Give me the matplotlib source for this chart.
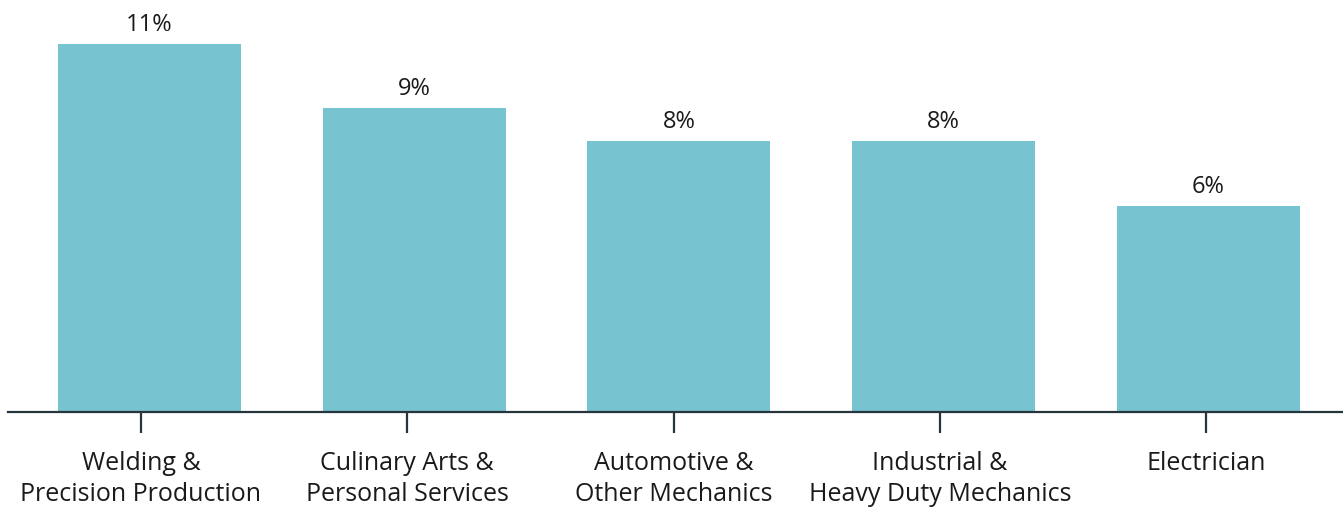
import numpy as np
import matplotlib.pyplot as plt

categories = ["Welding &\nPrecision Production", "Culinary Arts &\nPersonal Services",
              "Automotive &\nOther Mechanics", "Industrial &\nHeavy Duty Mechanics",
              "Electrician"]
values = [11.0, 9.07, 8.09, 8.09, 6.15]
value_labels = ["11%", "9%", "8%", "8%", "6%"]

plt.rcParams['font.family'] = ['Open Sans', 'DejaVu Sans']

fig = plt.figure(figsize=(13.43, 5.08), dpi=100)
ax = fig.add_axes([8 / 1343, 96 / 508, 1335 / 1343, 412 / 508])

x = np.arange(len(values))
ax.bar(x, values, width=0.691, color='#78c3d0')

for xi, v, lab in zip(x, values, value_labels):
    ax.annotate(lab, (xi, v), xytext=(0, 5), textcoords='offset points',
                ha='center', va='bottom', fontsize=17, color='#1a1a1a')

ax.set_xlim(-0.534, 4.508)
ax.set_ylim(0, 12.3)

ticks = x * 1.006 - 0.032
ax.set_xticks(ticks)
ax.set_xticklabels(categories, fontsize=18, color='#1a1a1a', linespacing=1.3)
ax.tick_params(axis='x', length=15, width=1.6, color='#26343c', pad=13)
ax.set_yticks([])

for s in ['top', 'right', 'left']:
    ax.spines[s].set_visible(False)
ax.spines['bottom'].set_color('#26343c')
ax.spines['bottom'].set_linewidth(1.6)

fig.savefig('out.png', dpi=100)
